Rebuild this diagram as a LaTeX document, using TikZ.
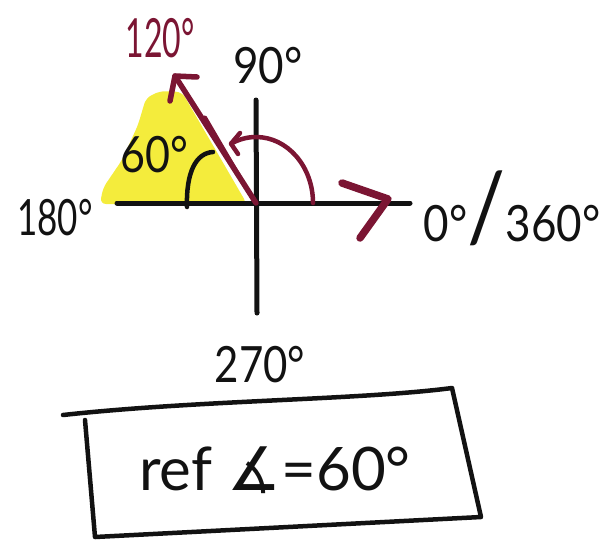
\documentclass[tikz,border=0pt]{standalone}
\usepackage{fontspec}
\setmainfont{Lato}
\newfontfamily\symfont{DejaVu Sans}
\definecolor{redpen}{HTML}{7B1533}
\definecolor{hilite}{HTML}{F4EC3C}
\definecolor{inkk}{HTML}{121212}
\begin{document}
\begin{tikzpicture}[x=1pt,y=1pt,line cap=round,line join=round,
  axis/.style={draw=inkk,line width=5pt},
  pen/.style={draw=redpen,line width=5.5pt},
  lbl/.style={inner sep=0pt,font=\fontsize{50}{50}\selectfont,text=inkk}]
\useasboundingbox (0,0) rectangle (609,-541);
% highlight
\fill[hilite,rounded corners=6pt] (100,-204) -- (103,-188) -- (122,-160) -- (138,-125) -- (146,-98) -- (160,-91) -- (182,-92) -- (247,-204) -- cycle;
% axes
\coordinate (O) at (256,-203);
\coordinate (L) at (117,-203);
\coordinate (R) at (410,-203);
\coordinate (T) at (256,-100);
\coordinate (B) at (257,-313);
\draw[axis] (L) -- (R);
\draw[axis] (T) -- (B);
% 120 degree arrow
\coordinate (P) at (175,-76);
\coordinate (Pa) at (170,-101);
\coordinate (Pb) at (197,-77);
\coordinate (P2) at (205,-117);
\coordinate (O2) at (254,-201);
\draw[pen] (O) -- (P);
\draw[redpen,line width=3.5pt] (P2) -- (O2);
\draw[pen] (Pa) -- (P) -- (Pb);
% 0 degree arrow head
\coordinate (Q) at (388,-199);
\coordinate (Qa) at (342,-183);
\coordinate (Qb) at (360,-238);
\draw[pen,line width=7.5pt] (Qa) -- (Q) -- (Qb);
% rotation arc
\coordinate (A0) at (313,-203);
\draw[redpen,line width=4.5pt] (A0) arc[start angle=0,end angle=116,x radius=57,y radius=66] coordinate (A1);
\coordinate (Aa) at (240,-133);
\coordinate (Ab) at (238,-154);
\draw[redpen,line width=4.5pt] (Aa) -- (A1) -- (Ab);
% reference angle arc
\coordinate (C0) at (187,-207);
\coordinate (C1) at (213,-152);
\draw[axis,line width=4.5pt] (C0) .. controls (186,-172) and (196,-153) .. (C1);
% labels
\node[lbl] (l180) at (55,-218) {\scalebox{0.7}[1]{180°}};
\node[lbl] (l90) at (268,-66) {\scalebox{0.88}[1]{90°}};
\node[lbl] (l270) at (260,-365) {\scalebox{0.84}[1]{270°}};
\node[lbl,text=redpen] (l120) at (160,-38) {\scalebox{0.64}[1.08]{120°}};
\node[lbl] (l60) at (154,-155) {\scalebox{0.86}[1]{60°}};
\node[lbl] (l0) at (512,-208) {\scalebox{0.88}[1]{0°{\fontsize{96}{96}\selectfont /}360°}};
% box
\coordinate (K1) at (63,-415);
\coordinate (K2) at (452,-388);
\coordinate (K3) at (481,-517);
\coordinate (K4) at (95,-537);
\coordinate (K5) at (85,-420);
\draw[axis,line width=4.5pt] (K1) .. controls (200,-400) and (360,-400) .. (K2) -- (K3) -- (K4) -- (K5);
\node[lbl,font=\fontsize{60}{60}\selectfont] (ref) at (275,-470) {ref {\symfont ∡}=60°};
\end{tikzpicture}
\end{document}
